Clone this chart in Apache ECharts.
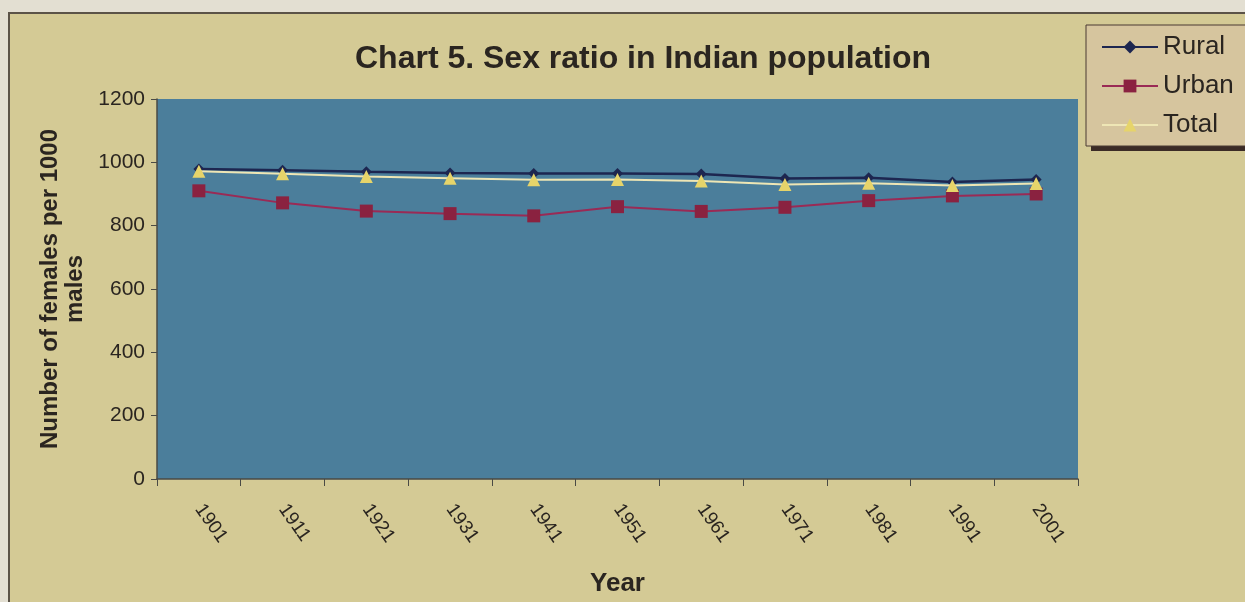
<!DOCTYPE html>
<html>
<head>
<meta charset="utf-8">
<style>
  html, body { margin: 0; padding: 0; background: #e3dfd2; }
  #chart { width: 1245px; height: 602px; }
</style>
<script src="https://cdn.jsdelivr.net/npm/echarts@6/dist/echarts.min.js"></script>
</head>
<body>
<div id="chart"></div>
<script>
// Census years
const years = ['1901', '1911', '1921', '1931', '1941', '1951', '1961', '1971', '1981', '1991', '2001'];
// Females per 1000 males
const rural = [979, 975, 970, 966, 965, 965, 963, 949, 951, 938, 946];
const urban = [910, 872, 846, 838, 831, 860, 845, 858, 879, 894, 900];
const total = [972, 964, 955, 950, 945, 946, 941, 930, 934, 927, 933];
const yTicks = [0, 200, 400, 600, 800, 1000, 1200];

const chart = echarts.init(document.getElementById('chart'));
const font = "'Liberation Sans', Arial, sans-serif";
const ink = '#2a2520';

chart.setOption({
  backgroundColor: 'transparent',
  animation: false,
  graphic: [
    {
      // chart frame
      type: 'rect', z: -10,
      shape: { x: 9, y: 13, width: 1250, height: 600 },
      style: { fill: '#d4ca95', stroke: '#5b5347', lineWidth: 2 }
    },
    {
      // legend drop shadow
      type: 'rect', z: -9,
      shape: { x: 1091, y: 30, width: 170, height: 121 },
      style: { fill: '#3b2b26' }
    },
    {
      // legend box
      type: 'rect', z: -8,
      shape: { x: 1086, y: 25, width: 170, height: 121 },
      style: { fill: '#d6c59e', stroke: '#4a3a32', lineWidth: 1 }
    }
  ],
  title: {
    text: 'Chart 5. Sex ratio in Indian population',
    left: 638, top: 38, textAlign: 'center',
    textStyle: { fontFamily: font, fontSize: 32, fontWeight: 'bold', color: ink }
  },
  legend: {
    orient: 'vertical',
    left: 1087, top: 30,
    padding: [4, 10, 4, 14],
    itemWidth: 56, itemHeight: 16,
    itemGap: 13,
    textStyle: { fontFamily: font, fontSize: 26, color: ink },
    data: ['Rural', 'Urban', 'Total']
  },
  grid: { left: 157, right: 167, top: 99, bottom: 123, show: true, backgroundColor: '#4b7e9b', borderColor: '#4b7e9b', borderWidth: 0 },
  xAxis: {
    type: 'category',
    data: years,
    boundaryGap: true,
    name: 'Year',
    nameLocation: 'middle',
    nameGap: 92,
    nameTextStyle: { fontFamily: font, fontSize: 26, fontWeight: 'bold', color: ink },
    axisLine: { lineStyle: { color: '#4a4a45', width: 1.5 } },
    axisTick: { show: true, alignWithLabel: false, length: 7, lineStyle: { color: '#4a4a45' } },
    axisLabel: { rotate: -55, margin: 27, fontFamily: font, fontSize: 19, color: ink }
  },
  yAxis: {
    type: 'value',
    min: 0, max: 1200, interval: 200,
    name: 'Number of females per 1000\nmales',
    nameLocation: 'middle',
    nameGap: 66,
    nameRotate: 90,
    nameTextStyle: { fontFamily: font, fontSize: 24, fontWeight: 'bold', color: ink, lineHeight: 25, align: 'center' },
    axisLine: { show: true, lineStyle: { color: '#4a4a45', width: 1.5 } },
    axisTick: { show: true, length: 6, lineStyle: { color: '#4a4a45' } },
    splitLine: { show: false },
    axisLabel: {
      margin: 12, fontFamily: font, fontSize: 21, color: ink,
      formatter: v => yTicks.includes(v) ? String(v) : ''
    }
  },
  series: [
    {
      name: 'Rural', type: 'line', data: rural,
      symbol: 'diamond', symbolSize: 11,
      lineStyle: { color: '#1d2650', width: 2.5 },
      itemStyle: { color: '#1d2650' }, z: 3
    },
    {
      name: 'Urban', type: 'line', data: urban,
      symbol: 'rect', symbolSize: 13,
      lineStyle: { color: '#9a2a55', width: 2 },
      itemStyle: { color: '#8a2240' }, z: 2
    },
    {
      name: 'Total', type: 'line', data: total,
      symbol: 'triangle', symbolSize: 13,
      lineStyle: { color: '#eee6b5', width: 2 },
      itemStyle: { color: '#e6d46a' }, z: 4
    }
  ]
});
</script>
</body>
</html>
